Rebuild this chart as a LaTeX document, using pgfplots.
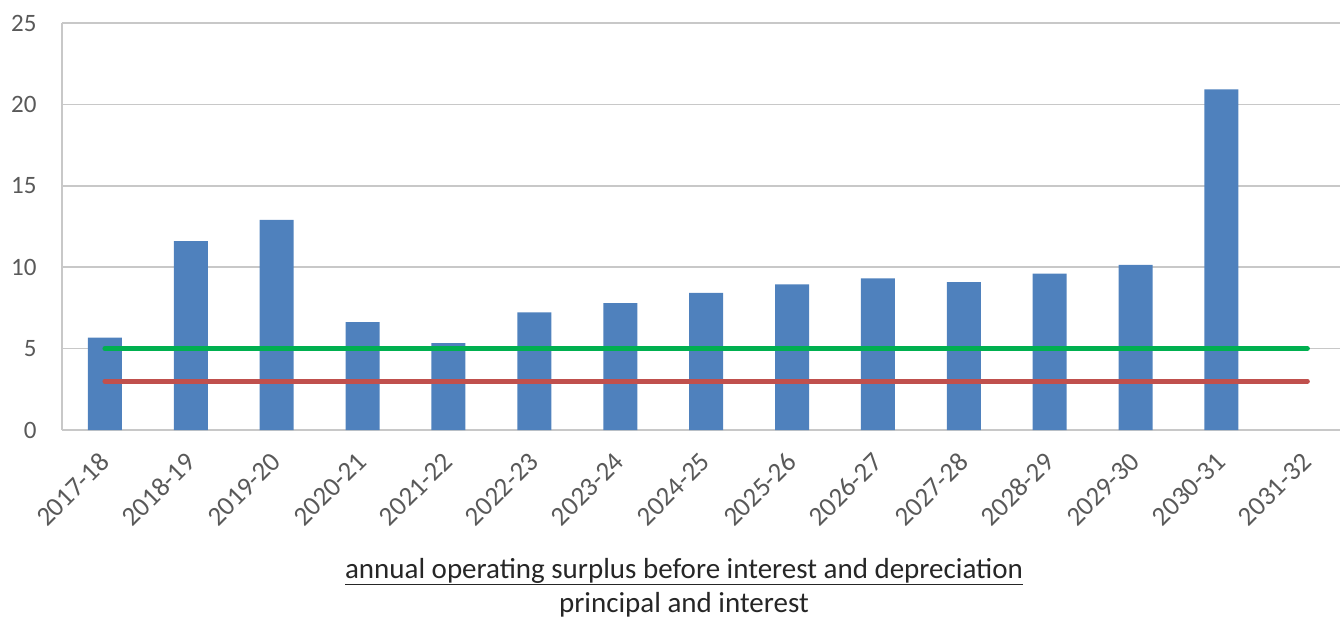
\documentclass[border=0pt]{standalone}
\usepackage{fontspec}
\setmainfont{Carlito}
\usepackage{pgfplots}
\pgfplotsset{compat=1.18}

\definecolor{barblue}{HTML}{4F81BD}
\definecolor{lgreen}{HTML}{00B050}
\definecolor{lred}{HTML}{C0504D}
\definecolor{gridgray}{HTML}{C8C8C8}
\definecolor{labgray}{HTML}{595959}

\begin{document}
\begin{tikzpicture}
\begin{axis}[
    at={(0pt,0pt)}, anchor=south west,
    scale only axis,
    width=1278pt, height=407pt,
    xmin=-0.5, xmax=14.38,
    ymin=0, ymax=25,
    ytick={0,5,...,25},
    xtick={0,1,...,14},
    xticklabels={2017-18,2018-19,2019-20,2020-21,2021-22,2022-23,2023-24,2024-25,2025-26,2026-27,2027-28,2028-29,2029-30,2030-31,2031-32},
    axis x line*=bottom, axis y line*=left,
    axis line style={gridgray, line width=1.5pt, -},
    ymajorgrids=true,
    grid style={gridgray, line width=1.5pt},
    major tick length=0pt,
    /pgf/number format/assume math mode=true,
    tick label style={text=labgray},
    yticklabel style={font=\fontsize{25}{30}\selectfont, anchor=east, xshift=-22pt},
    xticklabel style={font=\fontsize{27}{32}\selectfont, xshift=-7pt, yshift=-16pt, rotate=45, anchor=north east},
    clip=false,
]
\addplot[ybar, bar width=34pt, fill=barblue, draw=none] coordinates {
(0,5.67)(1,11.6)(2,12.9)(3,6.62)(4,5.34)(5,7.22)(6,7.8)(7,8.42)(8,8.94)(9,9.31)(10,9.09)(11,9.61)(12,10.14)(13,20.93)
};
\addplot[lgreen, line width=5pt, line cap=round] coordinates {(0,5)(14,5)};
\addplot[lred, line width=5pt, line cap=round] coordinates {(0,3)(14,3)};
\end{axis}
\node[anchor=base, font=\fontsize{29}{34}\selectfont, text=black!85] at (622pt,-148pt) {\underline{annual operating surplus before interest and depreciation}};
\node[anchor=base, font=\fontsize{29}{34}\selectfont, text=black!85] at (622pt,-182pt) {principal and interest};
\pgfresetboundingbox
\path (-62pt,-191pt) rectangle (1278pt,430pt);
\end{tikzpicture}
\end{document}
